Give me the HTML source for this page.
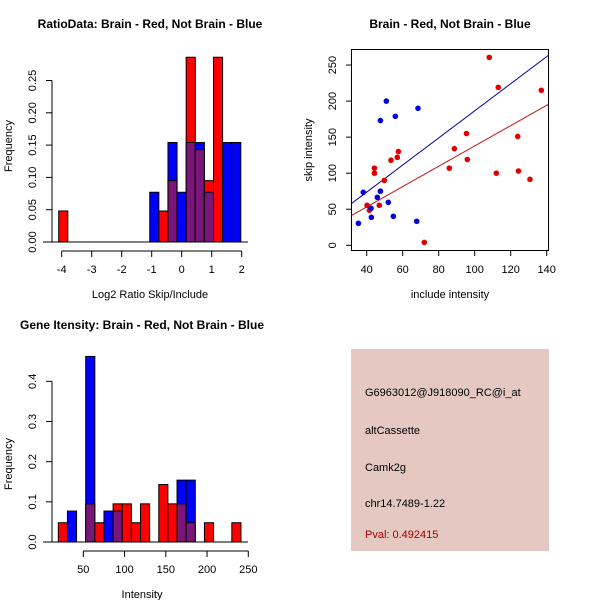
<!DOCTYPE html>
<html><head><meta charset="utf-8"><style>
body{margin:0;background:#fff}
svg{display:block;font-family:"Liberation Sans",sans-serif}
</style></head><body>
<svg id="s" width="600" height="600">
<rect x="0" y="0" width="600" height="600" fill="#fff"/>
<text x="150" y="28" text-anchor="middle" font-weight="bold" font-size="12">RatioData: Brain - Red, Not Brain - Blue</text>
<text x="450" y="28" text-anchor="middle" font-weight="bold" font-size="12">Brain - Red, Not Brain - Blue</text>
<text x="142" y="329" text-anchor="middle" font-weight="bold" font-size="12">Gene Itensity: Brain - Red, Not Brain - Blue</text>
<text x="150" y="298" text-anchor="middle" font-size="11">Log2 Ratio Skip/Include</text>
<text x="450" y="298" text-anchor="middle" font-size="11">include intensity</text>
<text x="142" y="598" text-anchor="middle" font-size="11">Intensity</text>
<text transform="translate(12,146) rotate(-90)" text-anchor="middle" font-size="11">Frequency</text>
<text transform="translate(312,150) rotate(-90)" text-anchor="middle" font-size="11">skip intensity</text>
<text transform="translate(12,464) rotate(-90)" text-anchor="middle" font-size="11">Frequency</text>
<g>
<rect x="351" y="349" width="198" height="202" fill="#e5c8c2"/>
<text x="365" y="396" font-size="11">G6963012@J918090_RC@i_at</text>
<text x="365" y="434" font-size="11">altCassette</text>
<text x="365" y="471" font-size="11">Camk2g</text>
<text x="365" y="507" font-size="11">chr14.7489-1.22</text>
<text x="365" y="538" font-size="11" fill="#a00000">Pval: 0.492415</text>
</g>
</svg>
<script>
// Ratio histogram data
const ratioStart = -4.1, ratioBin = 0.3035;
const ratioRed  = [0.048,0,0,0,0,0,0,0,0,0,0,0.048,0.095,0,0.286,0.143,0.095,0.286,0,0];
const ratioBlue = [0,0,0,0,0,0,0,0,0,0,0.077,0,0.154,0.077,0.154,0.154,0.077,0,0.154,0.154];
const ratioXTicks = [-4,-3,-2,-1,0,1,2];
const ratioYTicks = [0,0.05,0.10,0.15,0.20,0.25];
const ratioYLabels = ["0.00","0.05","0.10","0.15","0.20","0.25"];
// Intensity histogram data
const intStart = 19.7, intBin = 11.07;
const intRed  = [0.048,0,0,0.095,0.048,0,0.095,0.095,0.048,0.095,0,0.143,0.095,0.095,0.048,0,0.048,0,0,0.048];
const intBlue = [0,0.077,0,0.462,0,0.077,0.077,0,0,0,0,0,0,0.154,0.154,0,0,0,0,0];
const intXTicks = [50,100,150,200,250];
const intYTicks = [0,0.1,0.2,0.3,0.4];
const intYLabels = ["0.0","0.1","0.2","0.3","0.4"];
// Scatter data
const redX = [108.1,113.1,137,95.4,123.9,88.7,57.6,57,53.5,95.9,44.3,85.9,44.3,112,124.3,130.7,49.8,40.2,47,41.5,72];
const redY = [260.6,219,215,155,151,134,130,122,118,119,107,107,100,100,103,91.5,90,55.5,55.5,48.5,4];
const blueX = [50.9,68.5,47.6,55.9,38.1,47.6,45.9,52,42.4,42.6,54.8,67.8,35.4];
const blueY = [200,190,173,179,73.5,75,66.5,59.6,51.3,38.8,40.2,33.3,30.5];
const blueFit = [-1.37,1.879];
const redFit = [-3.1,1.409];
const scXTicks = [40,60,80,100,120,140];
const scYTicks = [0,50,100,150,200,250];

const NS="http://www.w3.org/2000/svg", svg=document.getElementById('s');
function mk(tag,attrs){const e=document.createElementNS(NS,tag);for(const k in attrs)e.setAttribute(k,attrs[k]);svg.appendChild(e);return e;}

function hist(start,bin,red,blue,xs,ys,yticks,ylabels,xticks,xlabelY,axisY,prefix){
  // baseline
  let l=mk('line',{x1:43,x2:248,y1:ys(0),y2:ys(0),stroke:'#000'});
  
  
  for(let i=0;i<red.length;i++){
    const x0=xs(start+i*bin), x1=xs(start+(i+1)*bin);
    const r=red[i], b=blue[i], m=Math.min(r,b);
    const parts=[];
    if(r>0) parts.push([r,'#ff0000','red']);
    if(b>0) parts.push([b,'#0000ff','blue']);
    if(m>0) parts.push([m,'#7a157a','overlap']);
    parts.sort((a,c)=>c[0]-a[0]);
    if(m>0){parts.length=0; const big=r>b?[r,'#ff0000','red']:[b,'#0000ff','blue']; if(r!==b)parts.push(big); parts.push([m,'#7a157a','overlap']);}
    for(const p of parts){
      const e=mk('rect',{x:x0,y:ys(p[0]),width:x1-x0,height:ys(0)-ys(p[0]),fill:p[1],stroke:'#000','stroke-width':1});
      
      
    }
  }
  // y axis
  const ya=mk('line',{x1:52,x2:52,y1:ys(yticks[0]),y2:ys(yticks[yticks.length-1]),stroke:'#000'});
  
  
  yticks.forEach((v,i)=>{
    mk('line',{x1:46,x2:52,y1:ys(v),y2:ys(v),stroke:'#000'});
    const t=mk('text',{transform:`translate(36,${ys(v)}) rotate(-90)`,'text-anchor':'middle','font-size':11});
    t.textContent=ylabels[i];
    
    
  });
  const xa=mk('line',{x1:xs(xticks[0]),x2:xs(xticks[xticks.length-1]),y1:axisY,y2:axisY,stroke:'#000'});
  
  
  xticks.forEach(v=>{
    mk('line',{x1:xs(v),x2:xs(v),y1:axisY,y2:axisY+6,stroke:'#000'});
    const t=mk('text',{x:xs(v),y:xlabelY,'text-anchor':'middle','font-size':11});
    t.textContent=String(v);
    
    
  });
}
hist(ratioStart,ratioBin,ratioRed,ratioBlue,v=>181.7+v*30,v=>242-v*646,ratioYTicks,ratioYLabels,ratioXTicks,273,251,'ratio');
hist(intStart,intBin,intRed,intBlue,v=>83.3+(v-50)*0.825,v=>542-v*401.7,intYTicks,intYLabels,intXTicks,573,551,'intensity');

// scatter
const sx=v=>366.7+(v-40)*1.8, sy=v=>245.3-v*0.721;
const bx=mk('rect',{x:351.5,y:49.5,width:197,height:201,fill:'none',stroke:'#000'});


const cp=mk('clipPath',{id:'cl'}); const cr=document.createElementNS(NS,'rect');
cr.setAttribute('x',352);cr.setAttribute('y',50);cr.setAttribute('width',196);cr.setAttribute('height',200);cp.appendChild(cr);
function fit(f,col,name){
  const x0=31.7,x1=141;
  const e=mk('line',{x1:sx(x0),y1:sy(f[0]+f[1]*x0),x2:sx(x1),y2:sy(f[0]+f[1]*x1),stroke:col,'clip-path':'url(#cl)'});
  
  
}
fit(blueFit,'#0000a8','blue-fit-line');
fit(redFit,'#c01010','red-fit-line');
redX.forEach((x,i)=>{const c=mk('circle',{cx:sx(x),cy:sy(redY[i]),r:2.8,fill:'#e00000'});
  
  });
blueX.forEach((x,i)=>{const c=mk('circle',{cx:sx(x),cy:sy(blueY[i]),r:2.8,fill:'#0000e0'});
  
  });
scXTicks.forEach(v=>{mk('line',{x1:sx(v),x2:sx(v),y1:250,y2:256,stroke:'#000'});
  const t=mk('text',{x:sx(v),y:273,'text-anchor':'middle','font-size':11});t.textContent=v;
  
  });
scYTicks.forEach(v=>{mk('line',{x1:346,x2:352,y1:sy(v),y2:sy(v),stroke:'#000'});
  const t=mk('text',{transform:`translate(336,${sy(v)}) rotate(-90)`,'text-anchor':'middle','font-size':11});t.textContent=v;
  
  });
</script>
</body></html>
